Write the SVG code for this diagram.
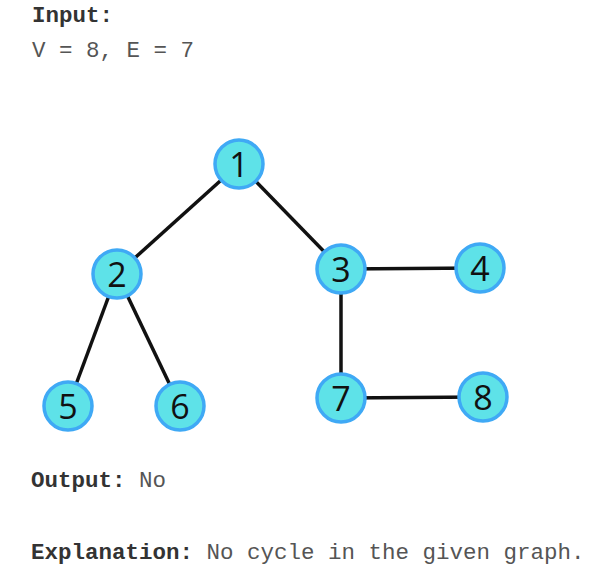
<svg xmlns="http://www.w3.org/2000/svg" width="610" height="586" viewBox="0 0 610 586">
<style>
.b{font-family:"Liberation Mono","Courier New",monospace;font-weight:bold;font-size:22.5px;fill:#333}
.t{font-family:"Liberation Mono","Courier New",monospace;font-size:22.5px;fill:#555}
.n circle{fill:#5ee2e8;stroke:#3fa9f5;stroke-width:3.5}
.n text{font-family:"Open Sans","DejaVu Sans",sans-serif;font-size:34px;fill:#111;text-anchor:middle;dominant-baseline:central}
.e line{stroke:#111;stroke-width:3.5}
</style>
<rect width="610" height="586" fill="#fff"/>
<text class="b" x="32" y="22">Input:</text>
<text class="t" x="32" y="57">V = 8, E = 7</text>
<g class="e" id="edges">
<line x1="239" y1="164" x2="117" y2="274"/>
<line x1="239" y1="164" x2="341" y2="269"/>
<line x1="341" y1="269" x2="480" y2="268"/>
<line x1="341" y1="269" x2="341" y2="398"/>
<line x1="341" y1="398" x2="483" y2="397"/>
<line x1="117" y1="274" x2="68" y2="406"/>
<line x1="117" y1="274" x2="180" y2="406"/>
</g>
<g class="n" id="n1"><circle cx="239" cy="164" r="24"/><text x="239" y="164">1</text></g>
<g class="n" id="n2"><circle cx="117" cy="274" r="24"/><text x="117" y="274">2</text></g>
<g class="n" id="n3"><circle cx="341" cy="269" r="24"/><text x="341" y="269">3</text></g>
<g class="n" id="n4"><circle cx="480" cy="268" r="24"/><text x="480" y="268">4</text></g>
<g class="n" id="n5"><circle cx="68" cy="406" r="24"/><text x="68" y="406">5</text></g>
<g class="n" id="n6"><circle cx="180" cy="406" r="24"/><text x="180" y="406">6</text></g>
<g class="n" id="n7"><circle cx="341" cy="398" r="24"/><text x="341" y="398">7</text></g>
<g class="n" id="n8"><circle cx="483" cy="397" r="24"/><text x="483" y="397">8</text></g>
<text class="b" x="31" y="487">Output: <tspan class="t" font-weight="normal">No</tspan></text>
<text class="b" x="31" y="559">Explanation: <tspan class="t" font-weight="normal">No cycle in the given graph.</tspan></text>
</svg>
